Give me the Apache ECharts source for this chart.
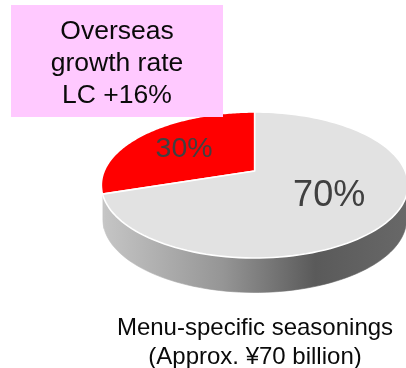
<!DOCTYPE html>
<html><head><meta charset="utf-8">
<style>html,body{margin:0;padding:0;background:#fff}#c{width:406px;height:368px}</style>
<script src="https://cdn.jsdelivr.net/npm/echarts@6/dist/echarts.min.js"></script>
</head><body><div id="c"></div>
<script>
const categories = ["Overseas", "Other"];
const shares = [30, 70];
const sliceColors = ["#ff0000", "#e2e2e2"];
const boxLines = ["Overseas", "growth rate", "LC +16%"];
const captionLines = ["Menu-specific seasonings", "(Approx. ¥70 billion)"];

const FONT = '"Liberation Sans", Arial, sans-serif';
const labelSizes = [28.5, 36];
const labelRadii = [0.62, 0.572];
const labelShiftY = [2, -0.5];
// Projection of the tilted disc onto the screen
const P = {cx: 254.7, cy: 171, R: 150.5, a: -37.5, c: 0.1918, depth: 34.5, wallScale: 0.99};
const total = shares.reduce((s, v) => s + v, 0);

function project(theta, r) { // theta: clockwise from 12 o'clock
  const u = r * Math.sin(theta), v = r * Math.cos(theta);
  const d = 1 + P.c * v;
  return [P.cx + P.R * u / d, (P.cy + P.a * v) / d];
}
function sliceRange(idx) {
  let before = 0;
  for (let i = 0; i < idx; i++) before += shares[i];
  // first slice ends at 12 o'clock going clockwise, i.e. it sits left of the top
  const start = -2 * Math.PI * shares[0] / total + 2 * Math.PI * before / total;
  return [start, start + 2 * Math.PI * shares[idx] / total];
}
const wallFill = {type: 'linear', x: 101, y: 0, x2: 407, y2: 0, global: true, colorStops: [
  {offset: 0, color: '#c6c6c6'}, {offset: 0.4, color: '#959595'},
  {offset: 0.7, color: '#5a5a5a'}, {offset: 1, color: '#686868'}]};
const tMin = Math.acos(-P.c), tMax = 2 * Math.PI - tMin;

function renderItem(params, api) {
  const idx = params.dataIndex;
  const [a0, a1] = sliceRange(idx);
  const N = 120, top = [[P.cx, P.cy]];
  for (let i = 0; i <= N; i++) top.push(project(a0 + (a1 - a0) * i / N, 1));
  const children = [];
  // side wall: visible front part of the rim, for this slice
  const norm = t => ((t % (2 * Math.PI)) + 2 * Math.PI) % (2 * Math.PI);
  const lo = [], hi = [];
  for (let i = 0; i <= N; i++) {
    const t = a0 + (a1 - a0) * i / N;
    const n = norm(t);
    if (n >= tMin && n <= tMax) {
      const p = project(t, 1);
      const wx = P.cx + (p[0] - P.cx) * P.wallScale;
      lo.push([wx, p[1]]); hi.unshift([wx, p[1] + P.depth]);
    }
  }
  if (lo.length > 1) children.push({type: 'polygon', z2: 1, shape: {points: lo.concat(hi)},
    style: {fill: wallFill, stroke: wallFill, lineWidth: 0.6}});
  children.push({type: 'polygon', z2: 2, shape: {points: top},
    style: {fill: sliceColors[idx], stroke: '#ffffff', lineWidth: 1.6, lineJoin: 'round'}});
  const lp = project((a0 + a1) / 2, labelRadii[idx]);
  children.push({type: 'text', z2: 3, x: lp[0], y: lp[1] + labelShiftY[idx],
    style: {text: Math.round(api.value(0)) + '%', fill: '#404040', font: labelSizes[idx] + 'px ' + FONT,
      align: 'center', verticalAlign: 'middle'}});
  return {type: 'group', children};
}

const chart = echarts.init(document.getElementById('c'), null, {renderer: 'canvas'});
chart.setOption({
  animation: false,
  backgroundColor: '#ffffff',
  series: [{type: 'custom', coordinateSystem: 'none', renderItem,
    data: categories.map((n, i) => ({name: n, value: [shares[i]]}))}],
  graphic: {elements: [
    {type: 'rect', z: 10, shape: {x: 11, y: 5, width: 212, height: 112}, style: {fill: '#ffc9ff'}},
    {type: 'text', z: 11, x: 117, y: 63.5, style: {text: boxLines.join('\n'), font: '26.5px ' + FONT,
      lineHeight: 32, fill: '#0a0a0a', align: 'center', verticalAlign: 'middle'}},
    {type: 'text', z: 11, x: 255, y: 343, style: {text: captionLines.join('\n'), font: '24px ' + FONT,
      lineHeight: 29, fill: '#0a0a0a', align: 'center', verticalAlign: 'middle'}}
  ]}
});
</script></body></html>
